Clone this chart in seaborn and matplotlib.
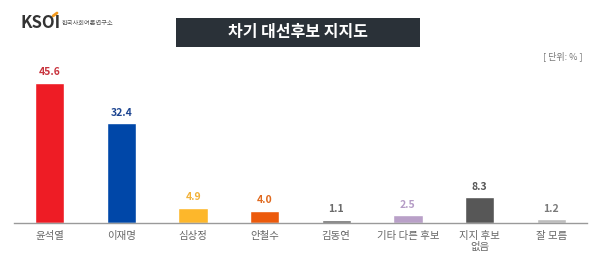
import matplotlib
matplotlib.use("Agg")
import matplotlib.pyplot as plt
import seaborn as sns
import pandas as pd
import numpy as np
from matplotlib.patches import Rectangle

sns.set_style("white")
plt.rcParams['font.family'] = ['Noto Sans CJK KR', 'DejaVu Sans']

categories = ["윤석열", "이재명", "심상정", "안철수", "김동연", "기타 다른 후보", "지지 후보\n없음", "잘 모름"]
values = [45.6, 32.4, 4.9, 4.0, 1.1, 2.5, 8.3, 1.2]
bar_colors = ["#ee1c25", "#0047a8", "#fdb72b", "#ec5a0c", "#707070", "#b9a0c8", "#575757", "#bdbdbd"]
label_colors = ["#c8323c", "#1d4591", "#f2b23a", "#e0691e", "#6a6a6a", "#b59cc6", "#555555", "#7a7a7a"]
title = "차기 대선후보 지지도"
unit = "[ 단위: % ]"

df = pd.DataFrame({"cat": categories, "val": values})

fig = plt.figure(figsize=(6, 2.62), dpi=100)
ax = fig.add_axes([14/600, 39/262, 573/600, 154/262])
sns.barplot(data=df, x="cat", y="val", hue="cat", palette=bar_colors, legend=False,
            width=0.41, ax=ax, saturation=1)
ax.set_ylim(0, 50)
ax.set_xlim(-0.5, len(categories) - 0.5)
for s in ["top", "right", "left"]:
    ax.spines[s].set_visible(False)
ax.spines["bottom"].set_color("#9a9a9a")
ax.spines["bottom"].set_linewidth(1.0)
ax.set_yticks([])
ax.set_xlabel("")
ax.set_ylabel("")
ax.set_xticks(range(len(categories)))
ax.set_xticklabels(categories, fontsize=7.5, color="#666666", linespacing=1.1, va="top")
ax.tick_params(axis="x", length=0, pad=6)
ax.set_xticks(np.arange(-0.5, len(categories)), minor=True)
ax.tick_params(axis="x", which="minor", length=2.5, direction="in", color="#9a9a9a", width=1)

for i, (v, c) in enumerate(zip(values, label_colors)):
    ax.annotate(f"{v:.1f}", (i, v), xytext=(0, 4), textcoords="offset points",
                ha="center", va="bottom", fontsize=7.5, fontweight="bold", color=c)

# title box
fig.patches.append(Rectangle((176/600, 1 - 47/262), (420-176)/600, (47-18)/262,
                             transform=fig.transFigure, facecolor="#2a3138", edgecolor="none"))
fig.text(298/600, 1 - 32.5/262, title, ha="center", va="center", color="white",
         fontsize=11.5, fontweight="bold")

# unit
fig.text(583/600, 1 - 56/262, unit, ha="right", va="center", fontsize=6.5, color="#777777")

# logo
fig.text(20/600, 1 - 23/262, "KSOI", ha="left", va="center", fontsize=12, fontweight="bold",
         color="#333333")
fig.text(62/600, 1 - 23/262, "한국사회여론연구소", ha="left", va="center", fontsize=4.5, color="#555555")
fig.lines.append(plt.Line2D([53/600, 57/600], [1 - 16/262, 1 - 13/262], transform=fig.transFigure,
                            color="#f39a1e", lw=2))

fig.savefig("out.png", dpi=100)
